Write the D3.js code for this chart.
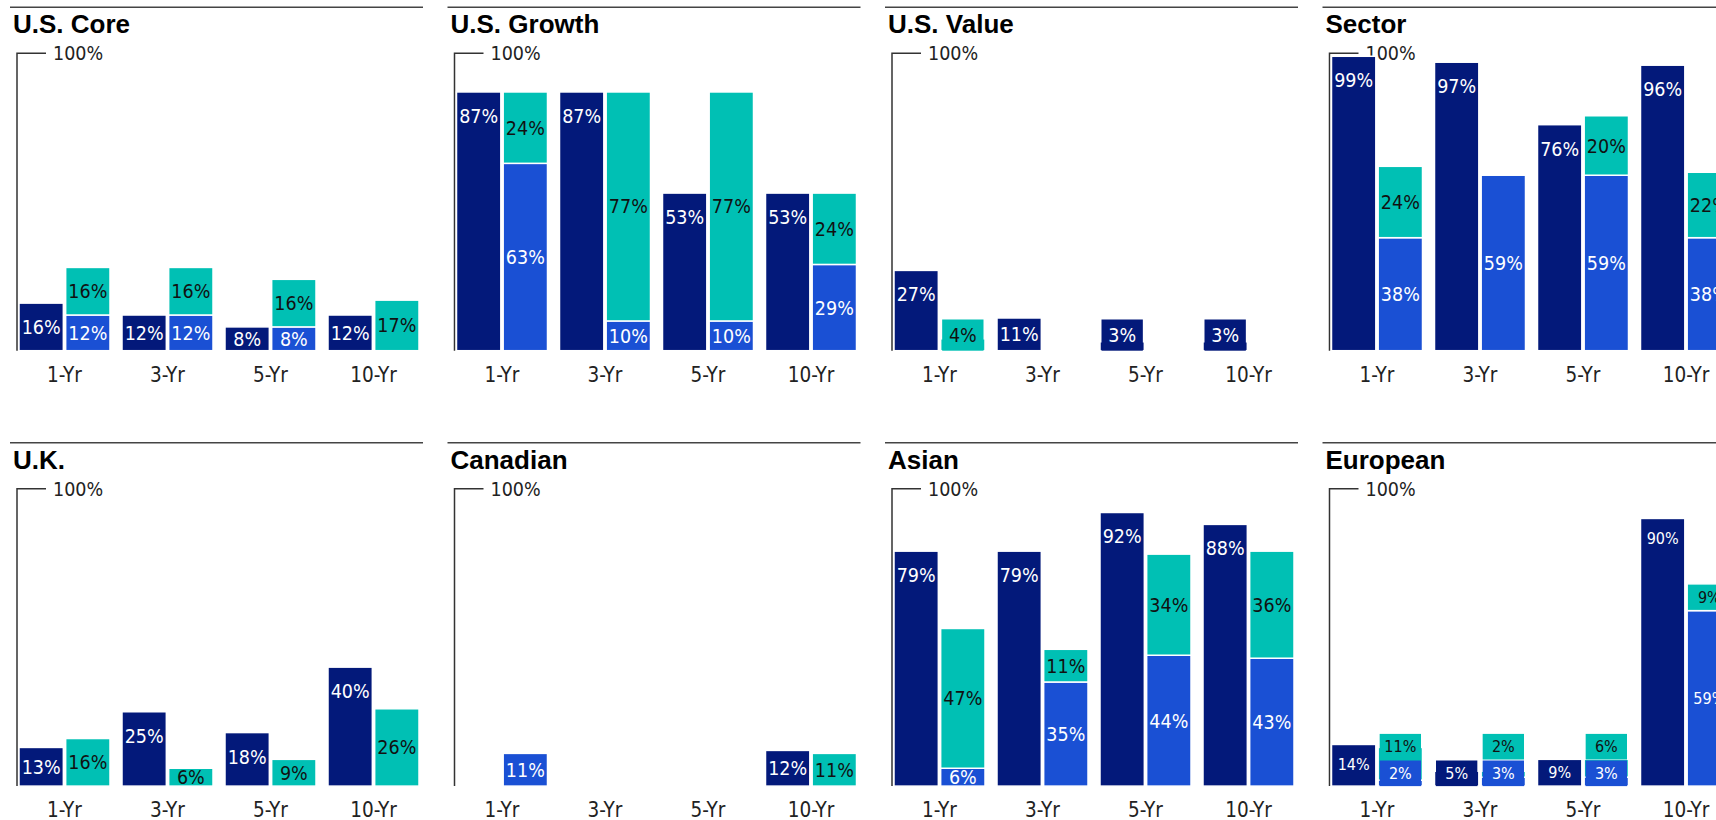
<!DOCTYPE html>
<html>
<head>
<meta charset="utf-8">
<script src="https://cdn.jsdelivr.net/npm/d3@7"></script>
<style>
  html, body { margin: 0; padding: 0; background: #fff; overflow: hidden; }
  svg { display: block; }
  .title { font-family: "Liberation Sans", Arial, sans-serif; font-weight: bold; font-size: 26px; fill: #000; }
  .num { font-family: "DejaVu Sans Condensed", "DejaVu Sans", sans-serif; font-stretch: condensed; }
</style>
</head>
<body>
<svg id="chart" width="1716" height="820"></svg>
<script>
// Periods shown on every panel
const categories = ["1-Yr", "3-Yr", "5-Yr", "10-Yr"];
const panelTitles = ["U.S. Core", "U.S. Growth", "U.S. Value", "Sector", "U.K.", "Canadian", "Asian", "European"];

// Single (dark) bar per period, in percent; null = no bar
const soloValues = [
  [16, 12, 8, 12],
  [87, 87, 53, 53],
  [27, 11, 3, 3],
  [99, 97, 76, 96],
  [13, 25, 18, 40],
  [null, null, null, 12],
  [79, 79, 92, 88],
  [14, 5, 9, 90]
];
// Lower segment of the stacked bar
const stackBaseValues = [
  [12, 12, 8, null],
  [63, 10, 10, 29],
  [null, null, null, null],
  [38, 59, 59, 38],
  [null, null, null, null],
  [11, null, null, null],
  [6, 35, 44, 43],
  [2, 3, 3, 59]
];
// Upper segment of the stacked bar
const stackTopValues = [
  [16, 16, 16, 17],
  [24, 77, 77, 24],
  [4, null, null, null],
  [24, null, 20, 22],
  [16, 6, 9, 26],
  [null, null, null, 11],
  [47, 11, 34, 36],
  [11, 2, 6, 9]
];
const axisMax = 100;
const axisTickLabel = "100%";

// Palette
const NAVY = "#03197a", BLUE = "#1a50d4", TEAL = "#00c0b4";

// Grid layout
const colStep = 437.5, rowStep = 435.4, left0 = 10, top0 = 7.3, ruleW = 413;

const svg = d3.select("#chart");
const fmt = v => v + "%";

panelTitles.forEach((title, p) => {
  const col = p % 4, row = Math.floor(p / 4);
  const x0 = left0 + col * colStep;
  const r0 = top0 + row * rowStep;
  const g = svg.append("g");

  const y = d3.scaleLinear().domain([0, axisMax]).range([r0 + 343.4, r0 + 46]);
  const x = d3.scaleBand().domain(categories).range([x0 + 9, x0 + 409]).paddingInner(12 / 103).paddingOuter(0);
  const xs = d3.scaleBand().domain(["solo", "stack"]).range([0, x.bandwidth()]).paddingInner(0.05);

  const fs = title === "European" ? 16 : 19.5;   // label font size
  const minH = 17.5;                             // smallest segment that can hold its label
  const boxH = fs * 1.6;                         // label backing box height
  const base = y(0);

  // panel rule and title
  g.append("line").attr("x1", x0).attr("x2", x0 + ruleW).attr("y1", r0).attr("y2", r0)
    .attr("stroke", "#444").attr("stroke-width", 1.6);
  g.append("text").attr("class", "title").attr("x", x0 + 3).attr("y", r0 + 26).text(title);

  // value axis: bracket to the 100% mark
  const ax = x0 + 7;
  g.append("path")
    .attr("d", `M${ax},${base}V${y(axisMax)}H${ax + 29}`)
    .attr("fill", "none").attr("stroke", "#333").attr("stroke-width", 1.5);
  g.append("text").attr("class", "num").attr("x", ax + 36).attr("y", y(axisMax) + 0.36 * 19.5)
    .attr("font-size", 19.5).attr("fill", "#222").text(axisTickLabel);

  // period labels
  g.selectAll("text.cat").data(categories).join("text")
    .attr("class", "num cat")
    .attr("x", d => x(d) + x.bandwidth() / 2)
    .attr("y", r0 + 374.4)
    .attr("text-anchor", "middle").attr("font-size", 20.5).attr("fill", "#222")
    .text(d => d);

  const bars = g.append("g");
  const labels = g.append("g");

  function bar(xl, w, yTop, yBot, fill) {
    bars.append("rect").attr("x", xl).attr("y", yTop).attr("width", w).attr("height", Math.max(0, yBot - yTop))
      .attr("fill", fill).attr("stroke", "#fff").attr("stroke-width", 1.5);
  }
  function label(xl, w, cy, value, textFill) {
    labels.append("text").attr("class", "num")
      .attr("x", xl + w / 2).attr("y", cy + 0.36 * fs)
      .attr("text-anchor", "middle").attr("font-size", fs).attr("fill", textFill)
      .text(fmt(value));
  }
  function box(xl, w, yTop, fill) {
    labels.append("rect").attr("x", xl + 1.5).attr("y", yTop).attr("width", w - 3).attr("height", boxH)
      .attr("fill", fill);
  }

  categories.forEach((c, j) => {
    // dark single bar
    const s = soloValues[p][j];
    if (s != null) {
      const xl = x(c) + xs("solo"), w = xs.bandwidth();
      const t = y(s), h = base - t;
      bar(xl, w, t, base, NAVY);
      if (h >= minH) {
        label(xl, w, t + Math.min(fs * 1.23, h / 2), s, "#fff");
      } else {
        box(xl, w, base - boxH, NAVY);
        label(xl, w, base - boxH / 2, s, "#fff");
      }
    }

    // stacked bar
    const b = stackBaseValues[p][j], tv = stackTopValues[p][j];
    const xl = x(c) + xs("stack"), w = xs.bandwidth();
    let occupiedTop = base;
    if (b != null) {
      bar(xl, w, y(b), base, BLUE);
      occupiedTop = y(b);
    }
    if (tv != null) {
      const lo = b != null ? b : 0;
      bar(xl, w, y(lo + tv), y(lo), TEAL);
    }
    // labels for the stack (lower first, upper keeps clear of it)
    if (b != null) {
      const t = y(b), h = base - t;
      if (h >= minH) {
        label(xl, w, (t + base) / 2, b, "#fff");
      } else {
        box(xl, w, base - boxH, BLUE);
        label(xl, w, base - boxH / 2, b, "#fff");
        occupiedTop = base - boxH;
      }
    }
    if (tv != null) {
      const lo = b != null ? b : 0;
      const t = y(lo + tv), bottom = Math.min(y(lo), occupiedTop);
      const vis = bottom - t;
      if (vis >= minH) {
        label(xl, w, (t + bottom) / 2, tv, "#111");
      } else {
        const bTop = (b != null ? occupiedTop - 1 : base) - boxH;
        box(xl, w, bTop, TEAL);
        label(xl, w, bTop + boxH / 2, tv, "#111");
      }
    }
  });
});
</script>
</body>
</html>
